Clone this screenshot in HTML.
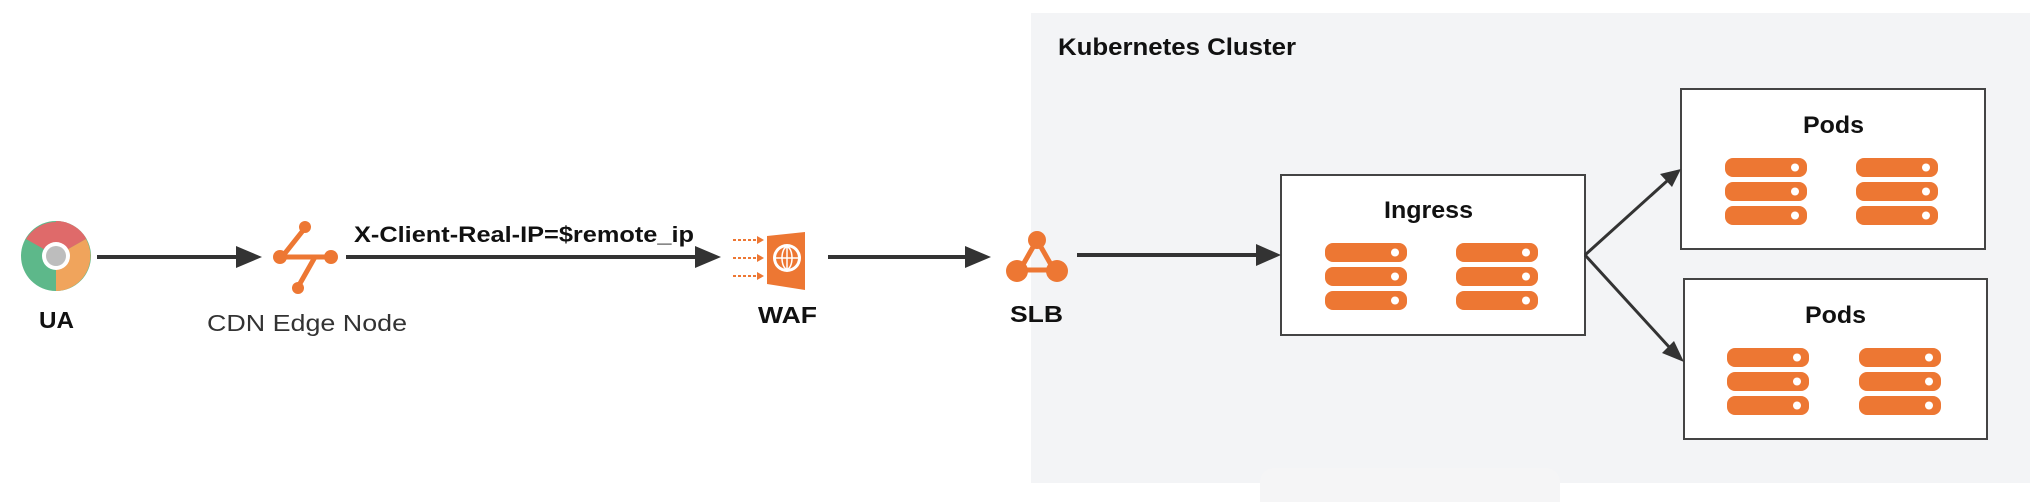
<!DOCTYPE html>
<html><head><meta charset="utf-8"><style>
html,body{margin:0;padding:0;background:#fff;}
body{width:2034px;height:502px;overflow:hidden;position:relative;font-family:"Liberation Sans",Arial,sans-serif;}
</style></head><body>
<svg width="2034" height="502" viewBox="0 0 2034 502" xmlns="http://www.w3.org/2000/svg" style="position:absolute;left:0;top:0">
<defs>
<g id="srv">
<rect x="0" y="0" width="82" height="19" rx="8" fill="#ed7733"/>
<circle cx="70" cy="9.5" r="4" fill="#fff"/>
</g>
<g id="stack">
<use href="#srv" y="0"/><use href="#srv" y="24"/><use href="#srv" y="48"/>
</g>
</defs>
<!-- cluster -->
<rect x="1031" y="13" width="999" height="470" fill="#f3f4f6"/>
<rect x="1260" y="468" width="300" height="50" rx="14" fill="#f5f5f6"/>
<text x="1058" y="55" font-size="24" font-weight="bold" fill="#111" textLength="238" lengthAdjust="spacingAndGlyphs">Kubernetes Cluster</text>

<!-- boxes -->
<rect x="1281" y="175" width="304" height="160" fill="#fff" stroke="#444" stroke-width="2"/>
<text x="1384" y="218" font-size="24" font-weight="bold" fill="#111" textLength="89" lengthAdjust="spacingAndGlyphs">Ingress</text>
<use href="#stack" x="1325" y="243"/><use href="#stack" x="1456" y="243"/>

<rect x="1681" y="89" width="304" height="160" fill="#fff" stroke="#444" stroke-width="2"/>
<text x="1803" y="133" font-size="24" font-weight="bold" fill="#111" textLength="61" lengthAdjust="spacingAndGlyphs">Pods</text>
<use href="#stack" x="1725" y="158"/><use href="#stack" x="1856" y="158"/>

<rect x="1684" y="279" width="303" height="160" fill="#fff" stroke="#444" stroke-width="2"/>
<text x="1805" y="323" font-size="24" font-weight="bold" fill="#111" textLength="61" lengthAdjust="spacingAndGlyphs">Pods</text>
<use href="#stack" x="1727" y="348"/><use href="#stack" x="1859" y="348"/>

<!-- connectors -->
<g stroke="#333" stroke-width="4" fill="none">
<line x1="97" y1="257" x2="238" y2="257"/>
<line x1="346" y1="257" x2="697" y2="257"/>
<line x1="828" y1="257" x2="967" y2="257"/>
<line x1="1077" y1="255" x2="1259" y2="255"/>
<line x1="1585" y1="255" x2="1667" y2="181" stroke-width="3"/>
<line x1="1585" y1="255" x2="1670" y2="348" stroke-width="3"/>
</g>
<g fill="#333">
<polygon points="262,257 236,246 236,268"/>
<polygon points="721,257 695,246 695,268"/>
<polygon points="991,257 965,246 965,268"/>
<polygon points="1281,255 1256,244 1256,266"/>
<polygon points="1681,169 1660,174 1672,187"/>
<polygon points="1684,362 1662,353 1674,341"/>
</g>

<!-- chrome -->
<g transform="translate(56,256)">
<circle r="35" fill="#5db88a"/>
<path d="M0,0 L-30,-17 A35,35 0 0 1 30,-17 Z" fill="#df6a6a"/>
<path d="M0,0 L30,-17 A35,35 0 0 1 0,35 L0,35 Z" fill="#f0a45c"/>
<path d="M0,-35 A35,35 0 0 1 30.3,-17.5 L0,-17.5Z" fill="#df6a6a"/>
<circle r="14" fill="#fff"/>
<circle r="10" fill="#bdbdbd"/>
</g>
<text x="39" y="328" font-size="23" font-weight="bold" fill="#111" textLength="35" lengthAdjust="spacingAndGlyphs">UA</text>

<!-- CDN -->
<g stroke="#ed7733" stroke-width="5" fill="#ed7733" stroke-linecap="round">
<line x1="305" y1="228" x2="282" y2="257"/>
<line x1="282" y1="257" x2="330" y2="257"/>
<line x1="315" y1="257" x2="298" y2="287"/>
<circle cx="305" cy="227" r="6" stroke="none"/>
<circle cx="280" cy="257" r="7" stroke="none"/>
<circle cx="331" cy="257" r="7" stroke="none"/>
<circle cx="298" cy="288" r="6" stroke="none"/>
</g>
<text x="207" y="331" font-size="23" fill="#333" textLength="200" lengthAdjust="spacingAndGlyphs">CDN Edge Node</text>

<text x="354" y="242" font-size="22" font-weight="bold" fill="#111" textLength="340" lengthAdjust="spacingAndGlyphs">X-Client-Real-IP=$remote_ip</text>

<!-- WAF -->
<g fill="#ed7733">
<path d="M767,236 L805,232 L805,290 L767,284 Z"/>
<circle cx="787" cy="258" r="14" fill="#fff"/>
<circle cx="787" cy="258" r="11"/>
<g stroke="#fff" stroke-width="1.5" fill="none">
<ellipse cx="787" cy="258" rx="5" ry="11"/>
<line x1="776" y1="258" x2="798" y2="258"/>
<line x1="787" y1="247" x2="787" y2="269"/>
</g>
<g stroke="#ed7733" stroke-width="2" stroke-dasharray="3,2">
<line x1="733" y1="240" x2="760" y2="240"/>
<line x1="733" y1="258" x2="760" y2="258"/>
<line x1="733" y1="276" x2="760" y2="276"/>
</g>
<polygon points="764,240 757,236 757,244"/><polygon points="764,258 757,254 757,262"/><polygon points="764,276 757,272 757,280"/>
</g>
<text x="758" y="323" font-size="23" font-weight="bold" fill="#111" textLength="59" lengthAdjust="spacingAndGlyphs">WAF</text>

<!-- SLB -->
<g fill="#ed7733" stroke="#ed7733" stroke-width="5">
<line x1="1037" y1="240" x2="1020" y2="270"/>
<line x1="1037" y1="240" x2="1054" y2="270"/>
<line x1="1020" y1="270" x2="1054" y2="270"/>
<circle cx="1037" cy="240" r="9" stroke="none"/>
<circle cx="1017" cy="271" r="11" stroke="none"/>
<circle cx="1057" cy="271" r="11" stroke="none"/>
</g>
<text x="1010" y="322" font-size="23" font-weight="bold" fill="#111" textLength="53" lengthAdjust="spacingAndGlyphs">SLB</text>
</svg>
</body></html>
